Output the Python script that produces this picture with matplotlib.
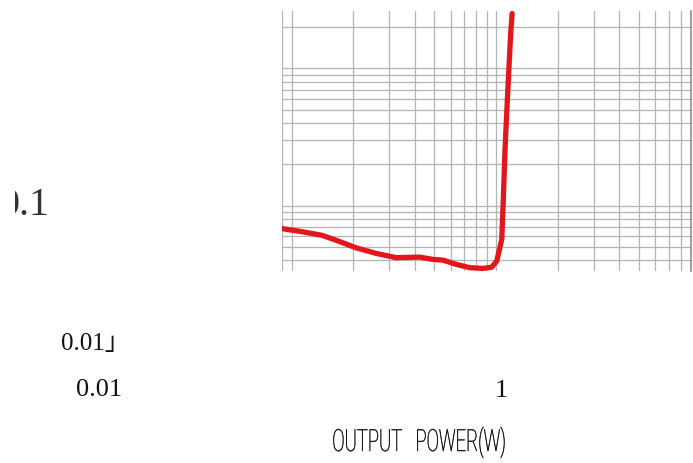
import numpy as np
import matplotlib
matplotlib.use('Agg')
import matplotlib.pyplot as plt
from matplotlib import patheffects
from matplotlib.ticker import LogLocator, NullFormatter
from matplotlib.transforms import Affine2D, Bbox


# === DATA (THD+N vs output power) ===
power_w = [0.0895, 0.112, 0.141, 0.164, 0.206, 0.259, 0.324, 0.422, 0.491,
           0.550, 0.640, 0.745, 0.866, 0.952, 1.008, 1.067, 1.086, 1.107,
           1.137, 1.163, 1.181, 1.199]
thd_pct = [0.0682, 0.0648, 0.0609, 0.0563, 0.0495, 0.0450, 0.0419, 0.0423,
           0.0407, 0.0402, 0.0374, 0.0354, 0.0350, 0.0357, 0.0395, 0.0570,
           0.1115, 0.2585, 0.599, 1.173, 1.837, 2.50]

x_range = (0.0893, 9.0)
y_range = (0.0335, 2.61)

RED = '#e3161b'
GRID = '#b4b4b4'
SERIF = ['Liberation Serif', 'Noto Sans CJK SC', 'DejaVu Serif']


class NarrowText(patheffects.AbstractPathEffect):
    """Squeeze glyphs horizontally (about the line start) to a given ink width in px,
    with an optional thin outline to add a little weight back."""

    def __init__(self, width_px, outline=0.0):
        super().__init__()
        self._width = width_px
        self._outline = outline

    def draw_path(self, renderer, gc, tpath, affine, rgbFace=None):
        ext = tpath.get_extents(affine)
        sx = self._width / ext.width if ext.width > 0 else 1.0
        x0 = ext.x0
        squeeze = Affine2D().translate(-x0, 0).scale(sx, 1).translate(x0, 0)
        gc0 = renderer.new_gc()
        gc0.copy_properties(gc)
        if self._outline > 0 and rgbFace is not None:
            gc0.set_linewidth(self._outline)
            gc0.set_foreground(rgbFace)
        renderer.draw_path(gc0, tpath, affine + squeeze, rgbFace)
        gc0.restore()


W, H = 693, 464
fig = plt.figure(figsize=(W / 100, H / 100), dpi=100)
fig.patch.set_facecolor('white')


def px(x, y):
    # pixel position (from top-left) -> figure fraction
    return x / W, 1 - y / H


ax = fig.add_axes([281.5 / W, 1 - 272 / H, (691.1 - 281.5) / W, 260 / H])
ax.set_xscale('log')
ax.set_yscale('log')
ax.set_xlim(*x_range)
ax.set_ylim(*y_range)

for axis in (ax.xaxis, ax.yaxis):
    axis.set_major_locator(LogLocator(base=10, numticks=10))
    axis.set_minor_locator(LogLocator(base=10, subs=np.arange(2, 10), numticks=30))
    axis.set_minor_formatter(NullFormatter())
ax.grid(which='both', color=GRID, linewidth=0.9)
ax.tick_params(which='both', length=0, labelbottom=False, labelleft=False)
for side in ('top', 'left', 'bottom'):
    ax.spines[side].set_visible(False)
ax.spines['right'].set_color('#8c8c8c')
ax.spines['right'].set_linewidth(1.2)

ax.plot(power_w, thd_pct, color=RED, linewidth=3.8,
        solid_capstyle='round', solid_joinstyle='round', zorder=3)

# axis labels (the scan only keeps a few of them; the left one is cut off)
t = fig.text(*px(-0.5, 215), '0.1', family=SERIF, fontsize=29, color='#333333',
             ha='left', va='baseline', clip_on=True)
t.set_clip_box(Bbox.from_extents(15, 0, W, H))
fig.text(*px(61, 350), '0.01」', family=SERIF, fontsize=18, color='#111111',
         ha='left', va='baseline')
fig.text(*px(76, 396), '0.01', family=SERIF, fontsize=19, color='#111111',
         ha='left', va='baseline')
fig.text(*px(495, 397), '1', family=SERIF, fontsize=19, color='#111111',
         ha='left', va='baseline')
fig.text(*px(331.5, 452), 'OUTPUT   POWER(W)', family=['Roboto', 'Liberation Sans'],
         fontweight='light', fontsize=22, color='#111111', ha='left',
         va='baseline', path_effects=[NarrowText(171, outline=0.35)])

fig.savefig('out.png', dpi=100, facecolor='white')
plt.close(fig)
